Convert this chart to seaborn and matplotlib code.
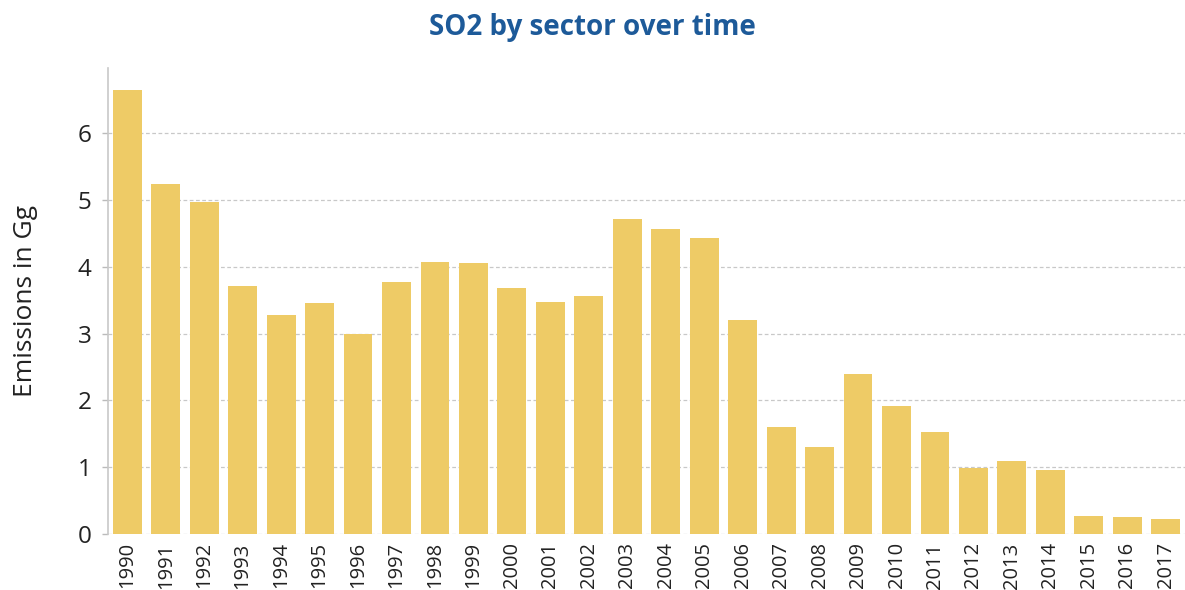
import matplotlib
matplotlib.use("Agg")
import matplotlib.pyplot as plt
import seaborn as sns
import pandas as pd

years = [str(y) for y in range(1990, 2018)]
emissions = [6.65, 5.24, 4.97, 3.71, 3.28, 3.46, 2.99, 3.77, 4.07, 4.06,
             3.68, 3.47, 3.56, 4.72, 4.57, 4.43, 3.20, 1.60, 1.30, 2.40,
             1.92, 1.53, 0.99, 1.09, 0.96, 0.27, 0.25, 0.22]
y_ticks = [0, 1, 2, 3, 4, 5, 6]

sns.set_style("white")
plt.rcParams['font.family'] = ['Open Sans', 'DejaVu Sans']

df = pd.DataFrame({"year": years, "emissions": emissions})

fig = plt.figure(figsize=(11.85, 5.9), dpi=100)
ax = fig.add_axes([108/1185, 56/590, 1077/1185, 466/590])

sns.barplot(data=df, x="year", y="emissions", color="#EECB66", saturation=1,
            width=0.75, linewidth=0, ax=ax, zorder=3)

ax.set_xlim(-0.5, len(years) - 0.5)
ax.set_ylim(0, 6.98)
ax.set_yticks(y_ticks)
ax.set_yticklabels([str(t) for t in y_ticks], fontsize=17.5, color="#222222")
ax.tick_params(axis="x", labelrotation=90, labelsize=14.5, colors="#222222",
               length=0, pad=6)
ax.tick_params(axis="y", length=4, color="#bbbbbb", width=1, pad=8, left=True)
ax.yaxis.grid(True, linestyle=(0, (3, 2)), color="#c8c8c8", linewidth=0.9, zorder=0)
ax.xaxis.grid(False)

for s in ["top", "right", "bottom"]:
    ax.spines[s].set_visible(False)
ax.spines["left"].set_color("#c8c8c8")
ax.spines["left"].set_linewidth(1.2)

ax.set_xlabel("")
ax.set_ylabel("Emissions in Gg", fontsize=19, color="#222222", labelpad=28)

fig.text(0.5, 1 - 27/590, "SO2 by sector over time", ha="center", va="center",
         fontsize=20, fontweight="bold", color="#1D5A99")

fig.savefig("out.png", dpi=100)
